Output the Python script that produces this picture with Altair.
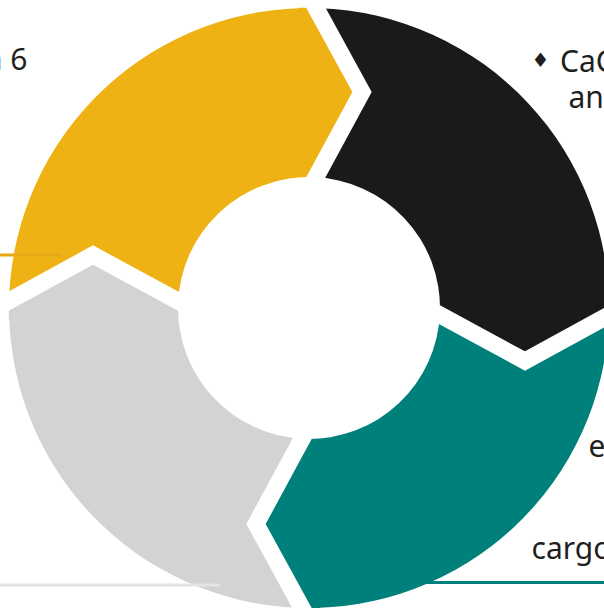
import math
import altair as alt
import pandas as pd

# ---- data ----
categories = ["A", "B", "C", "D"]          # clockwise from 12 o'clock
shares = [25, 25, 25, 25]
seg_colors = ["#1a1a1a", "#00807a", "#d3d3d3", "#eeb214"]
label_texts = ["n 6", "CaC", "an", "e", "cargo"]

# ---- geometry / style ----
W, H = 604, 608
CX, CY = 309, 308
R_IN, R_OUT = 131, 300
OFF = 7        # chevron base offset from radial line (px)
TIP = 46       # chevron tip depth (px)
U_MID = 216
GAP = 17

xs = alt.Scale(domain=[0, W], range=[0, W], nice=False, zero=False)
ys = alt.Scale(domain=[0, H], range=[0, H], nice=False, zero=False)

total = sum(shares)
offset = math.atan2(OFF, U_MID - 1)

arc_df = pd.DataFrame({"cat": categories, "value": shares, "idx": range(len(categories))})
arcs = alt.Chart(arc_df).mark_arc(innerRadius=R_IN, outerRadius=R_OUT).encode(
    theta=alt.Theta("value:Q", stack=True,
                    scale=alt.Scale(range=[offset, offset + 2 * math.pi])),
    color=alt.Color("cat:N", scale=alt.Scale(domain=categories, range=seg_colors), legend=None),
    order=alt.Order("idx:Q"),
    x=alt.value(CX),
    y=alt.value(CY),
)

def pt(phi, u, v):
    ax, ay = math.sin(phi), -math.cos(phi)
    px, py = math.cos(phi), math.sin(phi)
    return CX + u * ax + v * px, CY + u * ay + v * py

tip_rows, gap_rows = [], []
cum = 0
for i, s in enumerate(shares):
    cum += s
    phi = 2 * math.pi * cum / total          # boundary at end of segment i
    col = seg_colors[i]
    poly = [(R_IN, OFF), (U_MID, OFF + TIP), (R_OUT, OFF), (R_OUT, OFF - 18), (R_IN, OFF - 18)]
    for k, (u, v) in enumerate(poly):
        x, y = pt(phi, u, v)
        tip_rows.append({"poly": i, "ord": k, "x": x, "y": y, "col": col})
    s_in = TIP / (U_MID - R_IN)
    s_out = TIP / (R_OUT - U_MID)
    ext = 16
    gpts = [(R_IN - ext, OFF - ext * s_in), (U_MID, OFF + TIP), (R_OUT + ext, OFF - ext * s_out)]
    for k, (u, v) in enumerate(gpts):
        x, y = pt(phi, u, v)
        gap_rows.append({"g": i, "ord": k, "x": x, "y": y})

tips = alt.Chart(pd.DataFrame(tip_rows)).mark_line(strokeWidth=0.5).encode(
    x=alt.X("x:Q", scale=xs, axis=None),
    y=alt.Y("y:Q", scale=ys, axis=None),
    fill=alt.Fill("col:N", scale=None),
    stroke=alt.Stroke("col:N", scale=None),
    detail="poly:N",
    order="ord:Q",
)

gaps = alt.Chart(pd.DataFrame(gap_rows)).mark_line(
    strokeWidth=GAP, color="white", strokeJoin="miter", strokeCap="butt"
).encode(
    x=alt.X("x:Q", scale=xs, axis=None),
    y=alt.Y("y:Q", scale=ys, axis=None),
    detail="g:N",
    order="ord:Q",
)

rule_df = pd.DataFrame({
    "x": [0, 0, 425], "x2": [62, 220, 604], "y": [255, 585, 582.5],
    "col": ["#e6a817", "#e4e4e4", "#00807a"],
})
rules = alt.Chart(rule_df).mark_rule(strokeWidth=3).encode(
    x=alt.X("x:Q", scale=xs, axis=None), x2="x2:Q",
    y=alt.Y("y:Q", scale=ys, axis=None),
    color=alt.Color("col:N", scale=None),
)

text_df = pd.DataFrame({
    "t": label_texts,
    "x": [27.5, 560, 568.5, 588.5, 531.5],
    "y": [70, 71.5, 108, 456.5, 559],
    "a": ["right", "left", "left", "left", "left"],
})
texts_r = alt.Chart(text_df[text_df.a == "right"]).mark_text(
    align="right", baseline="alphabetic", font="Noto Sans", fontSize=30, color="#1f1f1f"
).encode(x=alt.X("x:Q", scale=xs, axis=None), y=alt.Y("y:Q", scale=ys, axis=None), text="t:N")
texts_l = alt.Chart(text_df[text_df.a == "left"]).mark_text(
    align="left", baseline="alphabetic", font="Noto Sans", fontSize=30, color="#1f1f1f"
).encode(x=alt.X("x:Q", scale=xs, axis=None), y=alt.Y("y:Q", scale=ys, axis=None), text="t:N")

bullet = alt.Chart(pd.DataFrame({"t": ["♦"], "x": [540.5], "y": [61]})).mark_text(
    align="center", baseline="middle", font="DejaVu Sans", fontSize=20, color="#1f1f1f"
).encode(x=alt.X("x:Q", scale=xs, axis=None), y=alt.Y("y:Q", scale=ys, axis=None), text="t:N")

chart = alt.layer(arcs, tips, gaps, rules, texts_r, texts_l, bullet).properties(
    width=W, height=H, autosize="none", padding=0
).configure_view(strokeWidth=0)

chart.save("out.html", embed_options={"renderer": "svg", "actions": False})
